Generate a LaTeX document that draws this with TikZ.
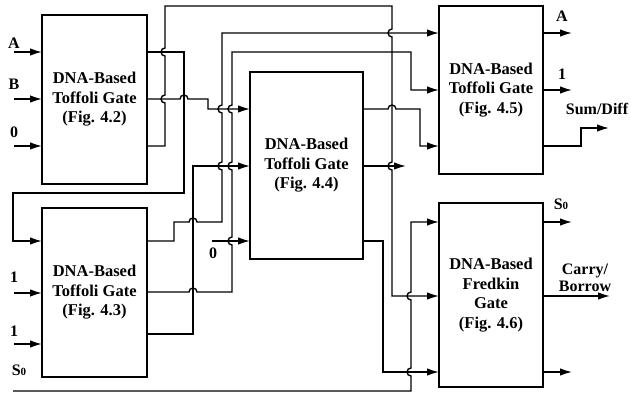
\documentclass[tikz,border=0pt]{standalone}
\usepackage{fontspec}
\setmainfont{Liberation Serif}
\usetikzlibrary{arrows.meta}

\begin{document}
\begin{tikzpicture}[x=1pt,y=-1pt,>={Latex[length=12pt,width=7.5pt]},line width=1.4pt,
  gate/.style={draw,line width=1.6pt,inner sep=0pt,outer sep=0pt,align=center,
    font=\fontsize{16.5}{19.5}\selectfont\bfseries},
  lbl/.style={inner sep=0pt,font=\fontsize{16}{17}\selectfont\bfseries}]
  \useasboundingbox (0,0) rectangle (631,394);
  \newcommand{\sz}{S{\fontsize{11}{11}\selectfont 0}}
  % gates
  \node[gate,minimum width=105pt,minimum height=169pt] (tof1) at (94.5,99.5) {DNA-Based\\Toffoli Gate\\(Fig. 4.2)};
  \node[gate,minimum width=105pt,minimum height=169pt] (tof2) at (94.5,292.5) {DNA-Based\\Toffoli Gate\\(Fig. 4.3)};
  \node[gate,minimum width=113pt,minimum height=187pt] (tof3) at (306.5,165.5) {DNA-Based\\Toffoli Gate\\(Fig. 4.4)};
  \node[gate,minimum width=104pt,minimum height=168pt] (tof4) at (491,90) {DNA-Based\\Toffoli Gate\\(Fig. 4.5)};
  \node[gate,minimum width=104pt,minimum height=184pt] (fred) at (491,295) {DNA-Based\\Fredkin\\Gate\\(Fig. 4.6)};
  % primary inputs
  \coordinate (inA) at (14,52); \coordinate (inB) at (14,99); \coordinate (inZ) at (14,146);
  \coordinate (inO1) at (14,293); \coordinate (inO2) at (14,344); \coordinate (inS) at (13,391);
  \coordinate (inZ2) at (212,241);
  \node[lbl] (lA) at (14,43) {A};
  \node[lbl] (lB) at (14,84) {B};
  \node[lbl] (lZ) at (14,132) {0};
  \node[lbl] (lO1) at (14,277) {1};
  \node[lbl] (lO2) at (14,331) {1};
  \node[lbl] (lS) at (19,370) {\sz};
  \node[lbl] (lZ2) at (213,253) {0};
  \draw[->] (inA) -- (inA -| tof1.west);
  \draw[->] (inB) -- (inB -| tof1.west);
  \draw[->] (inZ) -- (inZ -| tof1.west);
  \draw[->] (inO1) -- (inO1 -| tof2.west);
  \draw[->] (inO2) -- (inO2 -| tof2.west);
  \draw[->] (inZ2) -- (inZ2 -| tof3.west);
  % wiring (hops: horizontal lines jump up, vertical lines bend left)
  \draw[->] (tof1.east |- 0,52) -- (184,52) -- (184,193) -- (13,193) -- (13,241) -- (tof2.west |- 0,241);
  \draw[->] (tof1.east |- 0,99) -- (180,99) arc[start angle=180,end angle=0,radius=4pt] -- (208,99) -- (208,109) -- (tof3.west |- 0,109);
  \draw[->] (tof1.east |- 0,146) -- (165,146) -- (165,103) arc[start angle=270,end angle=90,radius=4pt]
    -- (165,56) arc[start angle=270,end angle=90,radius=4pt] -- (165,6) -- (392,6)
    -- (392,29) arc[start angle=90,end angle=270,radius=4pt]
    -- (392,162) arc[start angle=90,end angle=270,radius=4pt] -- (392,296) -- (fred.west |- 0,296);
  \draw[->] (tof2.east |- 0,241) -- (174,241) -- (174,222) -- (189,222) arc[start angle=180,end angle=0,radius=4pt]
    -- (222,222) -- (222,170) arc[start angle=270,end angle=90,radius=4pt]
    -- (222,113) arc[start angle=270,end angle=90,radius=4pt] -- (222,33) -- (tof4.west |- 0,33);
  \draw[->] (tof2.east |- 0,292) -- (189,292) arc[start angle=180,end angle=0,radius=4pt] -- (232,292)
    -- (232,245) arc[start angle=270,end angle=90,radius=4pt]
    -- (232,170) arc[start angle=270,end angle=90,radius=4pt]
    -- (232,113) arc[start angle=270,end angle=90,radius=4pt] -- (232,52) -- (411,52) -- (411,90) -- (tof4.west |- 0,90);
  \draw[->] (tof2.east |- 0,334) -- (193,334) -- (193,166) -- (tof3.west |- 0,166);
  \draw[->] (tof3.east |- 0,109) -- (388,109) arc[start angle=180,end angle=0,radius=4pt] -- (420,109) -- (420,146) -- (tof4.west |- 0,146);
  \coordinate (o3b) at (406,166);
  \draw[->] (tof3.east |- 0,166) -- (o3b);
  \draw[->] (tof3.east |- 0,241) -- (383,241) -- (383,372) -- (fred.west |- 0,372);
  \draw[->] (inS) -- (411,391) -- (411,376) arc[start angle=270,end angle=90,radius=4pt]
    -- (411,300) arc[start angle=270,end angle=90,radius=4pt] -- (411,222) -- (fred.west |- 0,222);
  % outputs
  \coordinate (oA) at (572,33); \coordinate (o1) at (572,90); \coordinate (oSD) at (609,128);
  \coordinate (oS) at (572,222); \coordinate (oC) at (610,296); \coordinate (oG) at (572,372);
  \draw[->] (tof4.east |- oA) -- (oA);
  \draw[->] (tof4.east |- o1) -- (o1);
  \draw[->] (tof4.east |- 0,146) -- (581,146) -- (581,128) -- (oSD);
  \draw[->] (fred.east |- oS) -- (oS);
  \draw[->] (fred.east |- oC) -- (oC);
  \draw[->] (fred.east |- oG) -- (oG);
  \node[lbl] (lOA) at (562,16) {A};
  \node[lbl] (lO1) at (562,74) {1};
  \node[lbl] (lSD) at (597,109) {Sum/Diff};
  \node[lbl] (lOS) at (561,204) {\sz};
  \node[lbl,align=center] (lCB) at (585,278) {Carry/\\Borrow};
\end{tikzpicture}
\end{document}
